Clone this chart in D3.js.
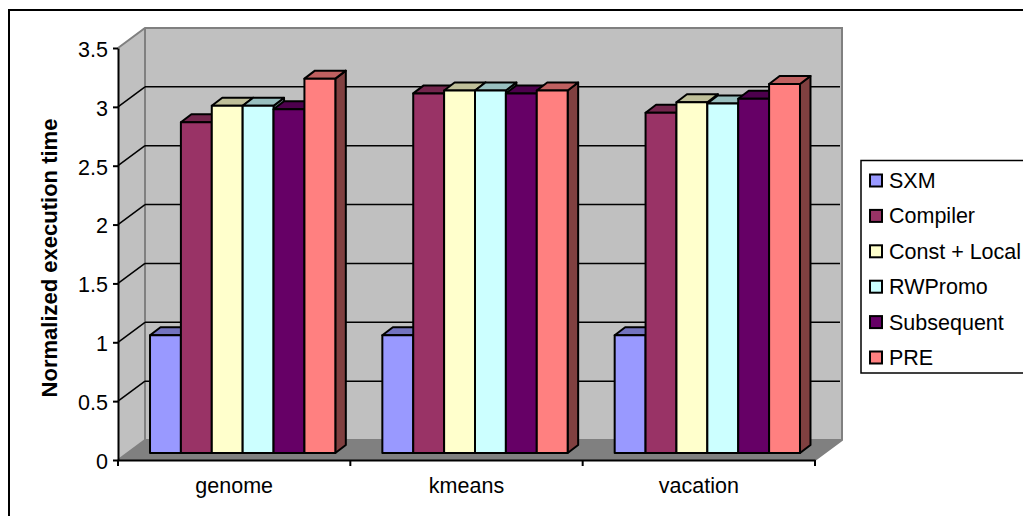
<!DOCTYPE html>
<html><head><meta charset="utf-8">
<script src="https://cdn.jsdelivr.net/npm/d3@7"></script>
<style>html,body{margin:0;padding:0;background:#fff;overflow:hidden}svg{display:block}text{font-family:"Liberation Sans",Arial,sans-serif;fill:#000}</style>
</head><body><svg id="c" width="1023" height="516"></svg>
<script>
const categories = ["genome","kmeans","vacation"];
const seriesNames = ["SXM","Compiler","Const + Local","RWPromo","Subsequent","PRE"];
const SXM = [1,1,1];
const Compiler = [2.81,3.055,2.89];
const ConstLocal = [2.95,3.08,2.98];
const RWPromo = [2.95,3.08,2.97];
const Subsequent = [2.92,3.055,3.01];
const PRE = [3.18,3.08,3.135];
const seriesValues = [SXM,Compiler,ConstLocal,RWPromo,Subsequent,PRE];
const colors = ["#9999FF","#993366","#FFFFCC","#CCFFFF","#660066","#FF8080"];
const yTicks = [0,0.5,1,1.5,2,2.5,3,3.5];

const svg = d3.select("#c");
const L=118,R=815,B=460,T=48, DX=27,DY=-20, BDX=8.5,BDY=-7, SDX=10.5,SDY=-8;
const y = d3.scaleLinear().domain([0,3.5]).range([B,T]);
const x = d3.scaleBand().domain(categories).range([L,R]);
const x0 = d3.scaleBand().domain(categories).range([L+BDX,R+BDX]).paddingInner(0.2024).paddingOuter(0.1012);
const x1 = d3.scaleBand().domain(seriesNames).range([0,x0.bandwidth()]);
const poly = p=>p.map(q=>q.join(",")).join(" ");

// frame
svg.append("rect").attr("x",9).attr("y",10).attr("width",1040).attr("height",540).attr("fill","#fff").attr("stroke","#000").attr("stroke-width",2);

// walls and floor
svg.append("polygon").attr("points",poly([[L,B],[L,T],[L+DX,T+DY],[L+DX,B+DY]])).attr("fill","#C0C0C0");
svg.append("polygon").attr("points",poly([[L+DX,T+DY],[R+DX,T+DY],[R+DX,B+DY],[L+DX,B+DY]])).attr("fill","#C0C0C0");
svg.append("polygon").attr("points",poly([[L,B],[L+DX,B+DY],[R+DX,B+DY],[R,B]])).attr("fill","#808080");
svg.append("polyline").attr("points",poly([[L,T],[L+DX,T+DY],[R+DX,T+DY],[R+DX,B+DY],[R,B]])).attr("fill","none").attr("stroke","#808080").attr("stroke-width",2);
svg.append("line").attr("x1",L+DX).attr("x2",L+DX).attr("y1",T+DY).attr("y2",B+DY).attr("stroke","#808080").attr("stroke-width",2);
svg.append("line").attr("x1",L).attr("y1",B).attr("x2",L+DX).attr("y2",B+DY).attr("stroke","#808080").attr("stroke-width",2);
svg.append("line").attr("x1",L+DX).attr("x2",R+DX).attr("y1",B+DY).attr("y2",B+DY).attr("stroke","#808080").attr("stroke-width",2);

// gridlines
const grid = yTicks.filter(d=>d>0&&d<3.5);
svg.selectAll(".gb").data(grid).join("line").attr("x1",L+DX).attr("x2",R+DX-2)
  .attr("y1",d=>y(d)+DY).attr("y2",d=>y(d)+DY).attr("stroke","#000").attr("stroke-width",1.5);
svg.selectAll(".gs").data(grid).join("line").attr("x1",L).attr("x2",L+DX)
  .attr("y1",d=>y(d)).attr("y2",d=>y(d)+DY).attr("stroke","#000").attr("stroke-width",1.5);

// bars
const shade=(c,k)=>{const r=d3.rgb(c);return d3.rgb(r.r*k,r.g*k,r.b*k).formatHex();};
categories.forEach((cat,ci)=>{
  seriesNames.forEach((s,si)=>{
    const v=seriesValues[si][ci], a=x0(cat)+x1(s), b=a+x1.bandwidth(), t=y(v)+BDY, f=B+BDY;
    const g=svg.append("g").attr("stroke","#000").attr("stroke-width",2).attr("stroke-linejoin","round");
    g.append("polygon").attr("points",poly([[b,f],[b,t],[b+SDX,t+SDY],[b+SDX,f+SDY]])).attr("fill",shade(colors[si],0.5));
    g.append("polygon").attr("points",poly([[a,t],[a+SDX,t+SDY],[b+SDX,t+SDY],[b,t]])).attr("fill",shade(colors[si],0.75));
    g.append("rect").attr("x",a).attr("y",t).attr("width",b-a).attr("height",f-t).attr("fill",colors[si]);
  });
});

// axes
const ay=svg.append("g").attr("transform",`translate(${L},0)`).call(d3.axisLeft(y).tickValues(yTicks).tickSize(5).tickSizeOuter(0).tickFormat(d3.format("~g")));
const ax=svg.append("g").attr("transform",`translate(0,${B})`).call(d3.axisBottom(x).tickValues(categories).tickSize(0).tickSizeOuter(0));
[ay,ax].forEach(g=>{g.selectAll("path,line").attr("stroke","#000").attr("stroke-width",2);
  g.selectAll("text").attr("font-size",21.5).attr("font-family",'"Liberation Sans",Arial,sans-serif');});
ay.selectAll("text").attr("x",-10).attr("y",1.5);
ax.selectAll("text").attr("y",17.5);
svg.append("g").selectAll("line").data([0,1,2,3]).join("line")
  .attr("x1",i=>L+i*x.step()).attr("x2",i=>L+i*x.step()).attr("y1",B).attr("y2",B+6).attr("stroke","#000").attr("stroke-width",2);

// axis title
svg.append("text").attr("transform","translate(57,258) rotate(-90)").attr("text-anchor","middle")
  .attr("font-size",22).attr("font-weight","bold").text("Normalized execution time");

// legend
svg.append("rect").attr("x",861).attr("y",160.5).attr("width",200).attr("height",212.5).attr("fill","#fff").attr("stroke","#000").attr("stroke-width",1.5);
const ly=d3.scalePoint().domain(seriesNames).range([180.5,357.5]);
seriesNames.forEach((s,i)=>{
  svg.append("rect").attr("x",870).attr("y",ly(s)-6).attr("width",12).attr("height",12).attr("fill",colors[i]).attr("stroke","#000").attr("stroke-width",2);
  svg.append("text").attr("x",889).attr("y",ly(s)+7.5).attr("font-size",21.5).text(s);
});
</script></body></html>
